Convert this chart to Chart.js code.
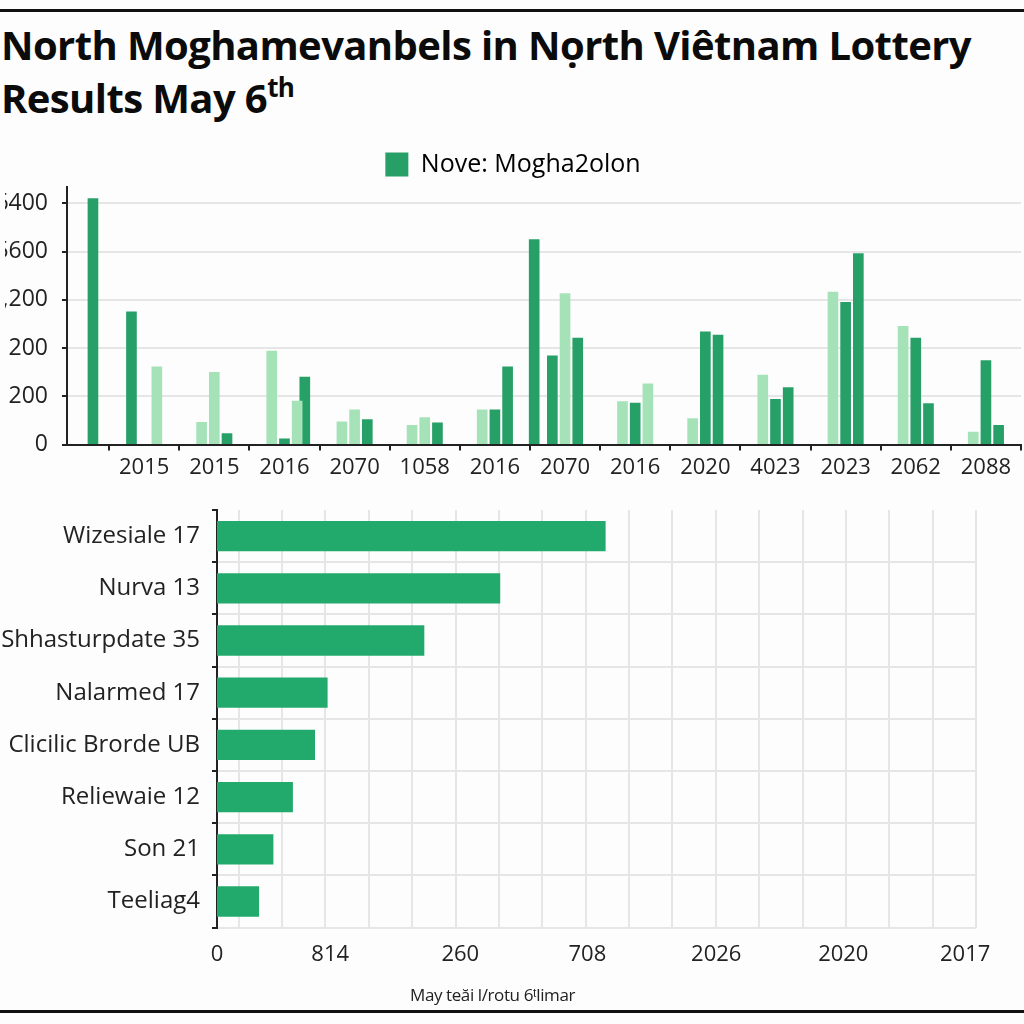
<!DOCTYPE html>
<html>
<head>
<meta charset="utf-8">
<script src="https://cdn.jsdelivr.net/npm/chart.js@4.4.0/dist/chart.umd.min.js"></script>
<style>
  body { margin:0; background:#fdfdfd; width:1024px; height:1024px; overflow:hidden; position:relative; font-family:'Open Sans', sans-serif; }
  .rule { position:absolute; left:0; width:1024px; height:3px; background:#111; }
  #title { position:absolute; left:1px; top:18px; font-weight:700; font-size:40px; line-height:53px; color:#0b0b0b; letter-spacing:-0.6px; white-space:nowrap; }
  #title sup { font-size:26px; line-height:0; vertical-align:16px; }
  #topChart { position:absolute; left:-8px; top:142px; }
  #botChart { position:absolute; left:0; top:500px; }
  #caption { position:absolute; left:410px; top:983px; font-size:17px; color:#222; letter-spacing:-0.4px; }
</style>
</head>
<body>
<div class="rule" style="top:9px"></div>
<div id="title">North Moghamevanbels in Nọrth Viêtnam Lottery<br>Results May 6<sup>th</sup></div>
<canvas id="topChart" width="1032" height="343"></canvas>
<canvas id="botChart" width="1024" height="496"></canvas>
<div id="caption">May teăi l/rotu 6ᵗlimar</div>
<div class="rule" style="top:1010px"></div>

<script>
// top chart: 3 bars per year group (slot A, B, C), plus a few stray bars
var groupLabels = ['', '2015', '2015', '2016', '2070', '1058', '2016', '2070', '2016', '2020', '4023', '2023', '2062', '2088'];
var slotA = [null, 2.75, 0.46, 1.94, 0.47, 0.40, 0.72, 1.84, 0.89, 0.54, 1.44, 3.16, 2.45, 0.26];
var slotB = [null, null, 1.50, 0.12, 0.72, 0.56, 0.72, 3.13, 0.86, 2.34, 0.94, 2.95, 2.21, 1.74];
var slotC = [null, 1.61, 0.23, 0.90, 0.52, 0.45, 1.61, 2.21, 1.26, 2.27, 1.18, 3.96, 0.85, 0.40];
var shadeA = ['D', 'D', 'L', 'L', 'L', 'L', 'L', 'D', 'L', 'L', 'L', 'L', 'L', 'L'];
var shadeB = ['D', 'D', 'L', 'D', 'L', 'L', 'D', 'L', 'D', 'D', 'D', 'D', 'D', 'D'];
var shadeC = ['D', 'L', 'D', 'L', 'D', 'D', 'D', 'D', 'L', 'D', 'D', 'D', 'D', 'D'];
var strayX = [0.27, 3.29, 6.56];
var strayY = [5.10, 1.40, 4.25];
var yTickLabels = ['0', '200', '200', '1,200', '5600', '6400'];
var legendLabel = 'Nove: Mogha2olon';

// bottom chart
var rowLabels = ['Wizesiale 17', 'Nurva 13', 'Shhasturpdate 35', 'Nalarmed 17', 'Clicilic Brorde UB', 'Reliewaie 12', 'Son 21', 'Teeliag4'];
var rowValues = [8.96, 6.53, 4.78, 2.55, 2.26, 1.75, 1.30, 0.97];
var valueTickPos = [0, 2.61, 5.61, 8.54, 11.51, 14.44, 17.25];
var valueTickLabels = ['0', '814', '260', '708', '2026', '2020', '2017'];

var DARK = '#26a067';
var LIGHT = '#a5e2b8';
var BAR2 = '#22aa6c';
var slotGap = 0.181; // distance between bars of one group, in x units

function pick(s) { return s == 'L' ? LIGHT : DARK; }
function toPoints(arr, shift) {
  return arr.map(function(v, i) { return { x: i + shift, y: v }; });
}
function range(a, b) {
  var out = [];
  for (var v = a; v <= b; v++) out.push(v);
  return out;
}

var xMin = -0.1, xMax = 13.5;
var barOpts = { xAxisID: 'x', grouped: false, barThickness: 10 };

new Chart(document.getElementById('topChart'), {
  type: 'bar',
  data: {
    datasets: [
      Object.assign({ label: legendLabel, data: toPoints(slotA, -slotGap), backgroundColor: shadeA.map(pick) }, barOpts),
      Object.assign({ label: 'b', data: toPoints(slotB, 0), backgroundColor: shadeB.map(pick) }, barOpts),
      Object.assign({ label: 'c', data: toPoints(slotC, slotGap), backgroundColor: shadeC.map(pick) }, barOpts),
      Object.assign({
        label: 'extra',
        data: strayX.map(function(x, i) { return { x: x, y: strayY[i] }; }),
        backgroundColor: DARK
      }, barOpts)
    ]
  },
  options: {
    responsive: false,
    animation: false,
    layout: { padding: { left: 13, right: 3, top: 0, bottom: 0 } },
    plugins: {
      tooltip: { enabled: false },
      legend: {
        labels: {
          boxWidth: 23, boxHeight: 24, color: '#222',
          font: { family: 'Open Sans', size: 25 },
          generateLabels: function() {
            return [{ text: legendLabel, fillStyle: DARK, strokeStyle: DARK, lineWidth: 0, hidden: false, datasetIndex: 0 }];
          }
        }
      }
    },
    scales: {
      x: {
        type: 'linear', min: xMin, max: xMax, offset: false,
        grid: { offset: false, drawOnChartArea: false, drawTicks: true, tickLength: 6, color: '#222', lineWidth: 2 },
        border: { color: '#222', width: 2 },
        ticks: { display: false },
        afterBuildTicks: function(a) {
          a.ticks = range(0, 13).map(function(k) { return { value: k + 0.5 }; });
        }
      },
      xl: {
        type: 'linear', position: 'bottom', min: xMin, max: xMax, offset: false,
        grid: { display: false, drawTicks: false, offset: false },
        border: { display: false },
        ticks: {
          autoSkip: false, maxRotation: 0, padding: 4, color: '#222',
          font: { family: 'Open Sans', size: 22 },
          callback: function(v) { return groupLabels[v]; }
        },
        afterBuildTicks: function(a) {
          a.ticks = range(1, 13).map(function(k) { return { value: k }; });
        }
      },
      y: {
        min: 0, max: 5.34,
        grid: { color: '#e6e6e6', lineWidth: 2, tickLength: 5, tickColor: '#222' },
        border: { color: '#222', width: 2 },
        ticks: {
          padding: 14, color: '#222',
          font: { family: 'Open Sans', size: 23 },
          callback: function(v, i) { return yTickLabels[i]; }
        },
        afterBuildTicks: function(a) {
          a.ticks = range(0, 5).map(function(k) { return { value: k }; });
        },
        afterFit: function(s) { s.width = 62; }
      }
    }
  }
});

new Chart(document.getElementById('botChart'), {
  type: 'bar',
  data: {
    labels: rowLabels,
    datasets: [{ label: 'rows', data: rowValues, backgroundColor: BAR2, xAxisID: 'x' }]
  },
  options: {
    indexAxis: 'y',
    responsive: false,
    animation: false,
    categoryPercentage: 1,
    barPercentage: 0.58,
    layout: { padding: { left: 0, right: 48, top: 10, bottom: 14 } },
    plugins: { legend: { display: false }, tooltip: { enabled: false } },
    scales: {
      x: {
        type: 'linear', min: 0, max: 17.5,
        grid: { color: '#e6e6e6', lineWidth: 2, drawTicks: false },
        border: { display: false },
        ticks: { display: false },
        afterBuildTicks: function(a) {
          a.ticks = range(0, 17).map(function(k) { return { value: k + 0.5 }; });
        }
      },
      xl: {
        type: 'linear', position: 'bottom', min: 0, max: 17.5,
        grid: { display: false, drawTicks: false },
        border: { display: false },
        ticks: {
          autoSkip: false, maxRotation: 0, padding: 14, color: '#222',
          font: { family: 'Open Sans', size: 22 },
          callback: function(v, i) { return valueTickLabels[i]; }
        },
        afterBuildTicks: function(a) {
          a.ticks = valueTickPos.map(function(p) { return { value: p }; });
        }
      },
      y: {
        grid: {
          color: function(c) { return c.index === 0 ? 'rgba(0,0,0,0)' : '#e6e6e6'; },
          lineWidth: 2, tickLength: 5, tickColor: '#222'
        },
        border: { color: '#222', width: 2 },
        ticks: { padding: 12, color: '#222', font: { family: 'Open Sans', size: 24 } },
        afterFit: function(s) {
          s.width = 217;
          s.paddingTop = 0;
          s.paddingBottom = 0;
        }
      }
    }
  }
});
</script>
</body>
</html>
